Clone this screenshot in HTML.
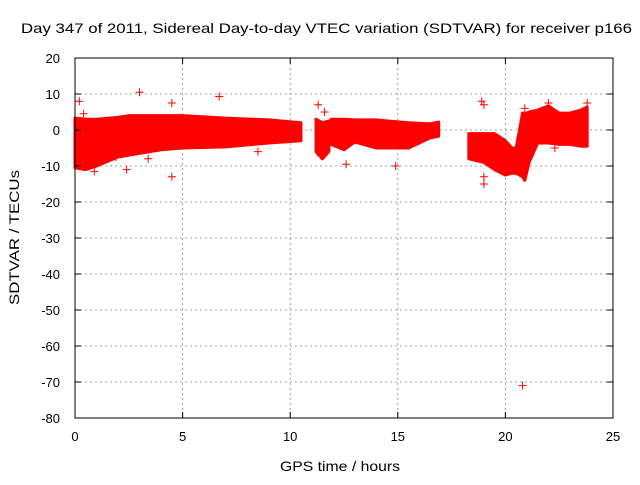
<!DOCTYPE html>
<html><head><meta charset="utf-8"><style>
body{margin:0;background:#fff}
svg text{font-family:"Liberation Sans",sans-serif;font-size:12px;fill:#000}
</style></head><body>
<svg width="640" height="480" id="c">
<text x="21" y="33" font-size="14" textLength="611" lengthAdjust="spacingAndGlyphs" style="font-size:14px">Day 347 of 2011, Sidereal Day-to-day VTEC variation (SDTVAR) for receiver p166</text>
<text x="280" y="471" textLength="120" lengthAdjust="spacingAndGlyphs" style="font-size:14px">GPS time / hours</text>
<text x="0" y="0" textLength="135" lengthAdjust="spacingAndGlyphs" style="font-size:14px" transform="translate(19,305) rotate(-90)">SDTVAR / TECUs</text>
<g id="grid"></g><g id="marks"></g><g id="axes"></g>
</svg>
<script>
const xTicks=[0,5,10,15,20,25];
const yTicks=[20,10,0,-10,-20,-30,-40,-50,-60,-70,-80];
// band segments: times, upper, lower envelopes
const segTimes=[[0,0.5,1,2,2.5,4,5,7,9,10.5],[11.2,11.5,11.8],[11.9,12.5,13,14,15.5,16.5,16.9],[18.3,19,19.5,20,20.3,20.5],[20.5,20.8,20.9,21.1,21.5,22,22.5,23,23.5,23.8]];
const segUpper=[[3.3,3,3,3.5,4,4,4,3.3,2.8,2],[3,2,2.5],[3,3,2.8,2.8,2,1.7,2.2],[-1,-1,-1,-3,-5,-5],[-5,4.7,4.5,5,5.5,6.7,4.7,4.7,5.5,6.4]];
const segLower=[[-10.5,-11,-10,-7.5,-7,-5.5,-5,-4.7,-3.6,-3],[-6,-8,-6],[-4,-5.5,-3.3,-5,-5,-2.2,-1.7],[-8,-9,-11,-12.5,-12,-12],[-12,-13,-14,-9,-3.6,-3.6,-4,-4,-4.5,-4.5]];
const outT=[0.2,3,6.7,18.9,20.8,4.5,2.4,22,23.8,4.5,0.9,19,0.4,12.6,11.3,8.5,1.9,3.4,14.9,19,19,11.4,11.6,20.9,21.7,22.3];
const outV=[8,10.5,9.3,8,-71,-13,-11,7.5,7.5,7.5,-11.5,-15,4.5,-9.5,7,-6,-7.5,-8,-10,-13,7,-7,5,6,-3,-5];
const X=t=>75+t*21.52, Y=v=>130-v*3.6;
const ns="http://www.w3.org/2000/svg";
function mk(tag,attrs,parent){const e=document.createElementNS(ns,tag);for(const k in attrs)e.setAttribute(k,attrs[k]);parent.appendChild(e);return e;}
const grid=document.getElementById('grid'),marks=document.getElementById('marks'),axes=document.getElementById('axes');
xTicks.forEach(t=>{
 if(t>0&&t<25){const g=mk('line',{x1:X(t),x2:X(t),y1:58,y2:418,stroke:'#a0a0a0','stroke-dasharray':'2,3'},grid);
 
 }
 mk('line',{x1:X(t),x2:X(t),y1:418,y2:412,stroke:'#000'},axes);
 mk('line',{x1:X(t),x2:X(t),y1:58,y2:64,stroke:'#000'},axes);
 const l=mk('text',{x:X(t),y:441,'text-anchor':'middle'},axes);l.textContent=t;
 l.setAttribute('style','font-size:13px');
 
 
});
yTicks.forEach(v=>{
 if(v<20&&v>-80){const g=mk('line',{x1:75,x2:613,y1:Y(v),y2:Y(v),stroke:'#a0a0a0','stroke-dasharray':'2,3'},grid);
 
 }
 mk('line',{x1:75,x2:81,y1:Y(v),y2:Y(v),stroke:'#000'},axes);
 mk('line',{x1:613,x2:607,y1:Y(v),y2:Y(v),stroke:'#000'},axes);
 const l=mk('text',{x:60,y:Y(v)+5,'text-anchor':'end'},axes);l.textContent=v;
 l.setAttribute('style','font-size:13px');
 
 
});
const fr=mk('rect',{x:75,y:58,width:538,height:360,fill:'none',stroke:'#000'},axes);


segTimes.forEach((ts,i)=>{
 let d='';ts.forEach((t,j)=>{d+=(j?'L':'M')+X(t)+','+Y(segUpper[i][j]);});
 for(let j=ts.length-1;j>=0;j--)d+='L'+X(ts[j])+','+Y(segLower[i][j]);
 const p=mk('path',{d:d+'Z',fill:'#ff0000',stroke:'#ff0000','stroke-width':3,'stroke-linejoin':'round'},marks);
 
 
});
outT.forEach((t,i)=>{
 const x=X(t),y=Y(outV[i]);
 const p=mk('path',{d:`M${x-4},${y}H${x+4}M${x},${y-4}V${y+4}`,stroke:'#ff0000','stroke-width':1},marks);
 
 
});
</script>
</body></html>
